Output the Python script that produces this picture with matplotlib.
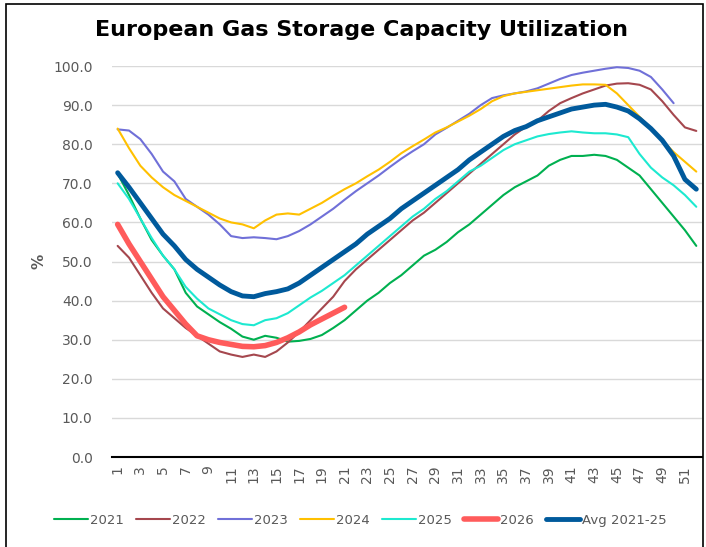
import numpy as np
import matplotlib.pyplot as plt
from matplotlib.patches import Rectangle

# Weekly storage utilization (%)
weeks = np.arange(1, 53)

y2021 = [72.5, 67, 61, 55.5, 51.5, 48, 42, 38.5, 36.5, 34.5, 32.8, 30.8,
         30, 31, 30.5, 29.5, 29.7, 30.2, 31.2, 33, 35, 37.5, 40, 42, 44.5, 46.5,
         49, 51.5, 53, 55, 57.5, 59.5, 62, 64.5, 67, 69, 70.5, 72, 74.5, 76,
         77, 77, 77.3, 77, 76, 74, 72, 68.5, 65, 61.5, 58, 54]
y2022 = [54, 51, 46.5, 42, 38, 35.5, 33, 31, 29, 27, 26.2, 25.6,
         26.2, 25.6, 27, 29.3, 32, 35, 38, 41, 45, 48, 50.5, 53, 55.5, 58,
         60.5, 62.5, 65, 67.5, 70, 72.5, 75, 77.5, 80, 82.5, 84.5, 86, 88.5, 90.5,
         91.8, 93, 94, 95, 95.5, 95.6, 95.2, 94, 91, 87.5, 84.3, 83.4]
y2023 = [83.8, 83.5, 81.3, 77.5, 73, 70.5, 66, 64, 62, 59.5, 56.5, 56,
         56.2, 56, 55.7, 56.5, 57.8, 59.5, 61.5, 63.5, 65.8, 68, 70, 72, 74.2, 76.3,
         78.2, 80, 82.5, 84.2, 86, 87.8, 90, 91.8, 92.5, 93, 93.5, 94.3, 95.5, 96.7,
         97.7, 98.3, 98.8, 99.3, 99.7, 99.5, 98.8, 97.2, 94, 90.5]
y2024 = [84, 79, 74.5, 71.5, 69, 67, 65.5, 64, 62.5, 61, 60, 59.5,
         58.5, 60.5, 62, 62.3, 62, 63.5, 65, 66.8, 68.5, 70, 71.8, 73.5, 75.5, 77.7,
         79.5, 81.2, 83, 84.3, 85.8, 87.3, 89, 91, 92.3, 93, 93.4, 93.8, 94.2, 94.6,
         95, 95.3, 95.3, 95.2, 93, 90, 87, 84, 81, 78, 75.5, 73]
y2025 = [70, 66, 61, 56, 51.5, 48, 43.5, 40.5, 38, 36.5, 35, 34,
         33.7, 35, 35.5, 36.8, 38.8, 40.8, 42.5, 44.5, 46.5, 49, 51.5, 54, 56.5, 59,
         61.5, 63.5, 66, 68, 70.5, 73, 74.5, 76.5, 78.5, 80, 81, 82, 82.6, 83,
         83.3, 83, 82.8, 82.8, 82.5, 81.8, 77.5, 74, 71.5, 69.5, 67, 64]
y2026 = [59.5, 54.5, 50, 45.5, 41, 37.5, 34, 31, 30, 29.3, 28.8, 28.3,
         28.2, 28.5, 29.3, 30.5, 32, 33.8, 35.3, 36.8, 38.3]
y_avg = [72.7, 69, 65, 61, 57, 54, 50.5, 48, 46, 44, 42.3, 41.2,
         41, 41.8, 42.3, 43, 44.5, 46.5, 48.5, 50.5, 52.5, 54.5, 57, 59, 61, 63.5,
         65.5, 67.5, 69.5, 71.5, 73.5, 76, 78, 80, 82, 83.5, 84.5, 86, 87, 88,
         89, 89.5, 90, 90.2, 89.5, 88.5, 86.5, 84, 81, 77, 71, 68.5]

series = [
    ("2021", y2021, "#00b050", 1.5),
    ("2022", y2022, "#a5474e", 1.5),
    ("2023", y2023, "#7070d8", 1.5),
    ("2024", y2024, "#ffc000", 1.5),
    ("2025", y2025, "#1de9d0", 1.5),
    ("2026", y2026, "#ff5b5b", 4.0),
    ("Avg 2021-25", y_avg, "#005a9c", 3.5),
]

plt.rcParams['font.family'] = 'DejaVu Sans'

fig = plt.figure(figsize=(7.06, 5.47), dpi=100)
ax = fig.add_axes([0.1586, 0.1645, 0.8357, 0.7148])

for label, vals, color, lw in series:
    ax.plot(weeks[:len(vals)], vals, color=color, lw=lw, label=label,
            solid_capstyle='round', solid_joinstyle='round')

ax.set_xlim(0.5, 52.5)
ax.set_ylim(0, 100)
ax.set_yticks(np.arange(0, 101, 10))
ax.set_yticklabels([f"{v:.1f}" for v in np.arange(0, 101, 10)])
ax.set_xticks(np.arange(1, 53, 2))
ax.set_xticklabels([str(w) for w in range(1, 53, 2)], rotation=90)
ax.tick_params(axis='both', length=0, labelsize=10, labelcolor='#595959')
ax.tick_params(axis='y', pad=14)
ax.tick_params(axis='x', pad=6)

ax.grid(axis='y', color='#d9d9d9', lw=1)
ax.set_axisbelow(True)
for side in ['left', 'right', 'top']:
    ax.spines[side].set_visible(False)
ax.spines['bottom'].set_color('black')
ax.spines['bottom'].set_linewidth(1.5)

ax.set_ylabel('%', fontsize=11, fontweight='bold', color='#595959', labelpad=5)

fig.text(0.512, 0.945, 'European Gas Storage Capacity Utilization',
         ha='center', va='center', fontsize=16, fontweight='bold')

fig.legend(loc='center', bbox_to_anchor=(0.51, 0.049), ncol=7, frameon=False,
           fontsize=9.5, handlelength=2.6, handletextpad=0.15, columnspacing=0.9,
           labelcolor='#595959')

# outer frame
fig.patches.append(Rectangle((6 / 706, -0.02), 697 / 706, 1.02 - 4 / 547,
                             transform=fig.transFigure, fill=False,
                             edgecolor='black', lw=1.2, clip_on=False))

fig.savefig('out.png', dpi=100)
